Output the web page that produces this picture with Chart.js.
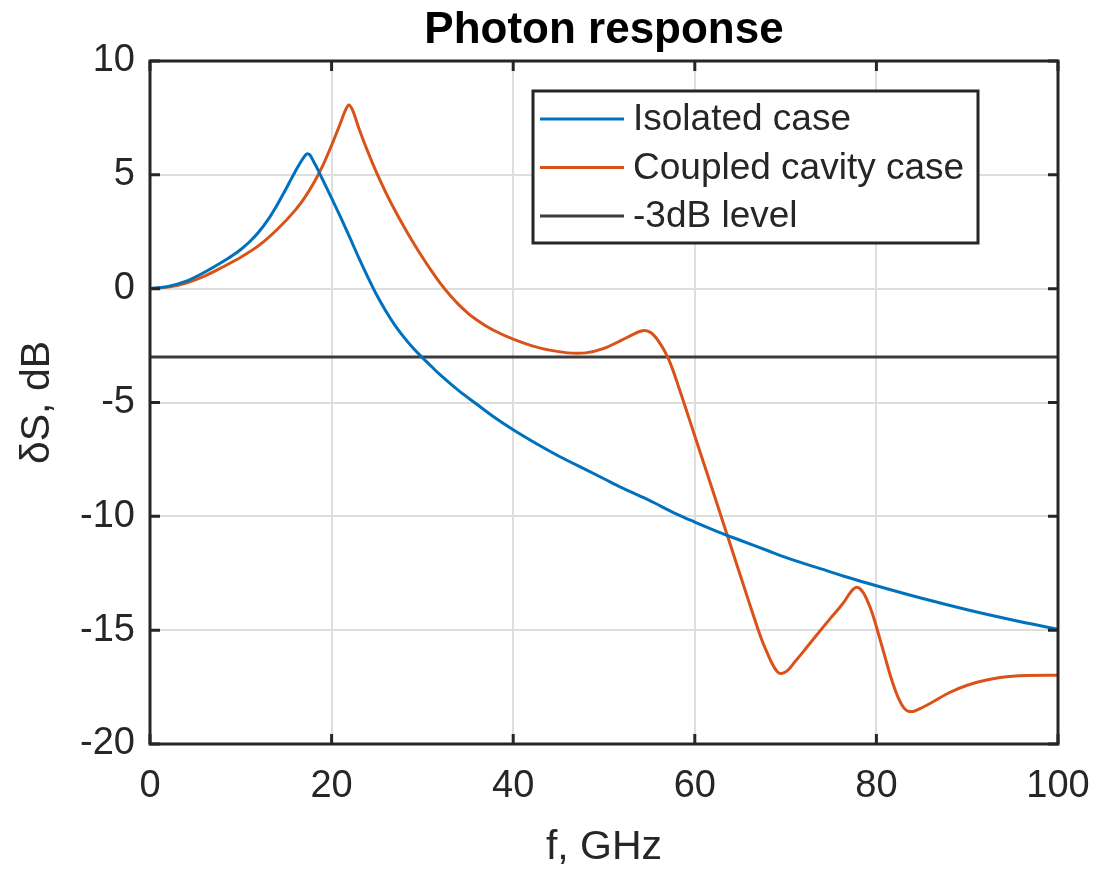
<!DOCTYPE html>
<html>
<head>
<meta charset="utf-8">
<title>Photon response</title>
<script src="https://cdn.jsdelivr.net/npm/chart.js@4.4.1/dist/chart.umd.min.js"></script>
<style>
  html, body { margin: 0; padding: 0; background: #ffffff; }
  #wrap { width: 1099px; height: 872px; }
</style>
</head>
<body>
<div id="wrap"><canvas id="chart" width="1099" height="872"></canvas></div>
<script>
// Values (f in GHz, response in dB)
const isolatedFreq = [0, 2, 4, 6, 8, 9, 10, 11, 12, 13, 14, 15, 15.5, 16, 16.5, 17, 17.3, 17.6, 18, 18.5,
  19, 20, 21, 22, 23, 24, 25, 26, 27, 28, 29, 30, 31, 32, 34, 36, 38, 40, 42, 45,
  48, 50, 52, 55, 58, 60, 63, 65, 68, 70, 74, 77, 80, 85, 90, 95, 100];
const isolatedDb = [0, 0.1, 0.33, 0.72, 1.18, 1.43, 1.72, 2.07, 2.5, 3.03, 3.68, 4.4, 4.78, 5.15, 5.5, 5.8, 5.93, 5.88, 5.6, 5.22,
  4.8, 3.98, 3.13, 2.25, 1.35, 0.5, -0.3, -1.0, -1.62, -2.15, -2.62, -3.03, -3.42, -3.8, -4.48, -5.08, -5.67, -6.2, -6.68, -7.35,
  -7.95, -8.35, -8.75, -9.3, -9.9, -10.25, -10.75, -11.05, -11.5, -11.8, -12.32, -12.7, -13.05, -13.6, -14.1, -14.55, -14.96];

const coupledFreq = [0, 2, 4, 6, 8, 10, 12, 14, 16, 17, 18, 19, 20, 21, 21.5, 21.9, 22.3, 23, 24, 25,
  26, 27, 28, 29, 30, 31, 32, 33, 34, 35, 36, 37, 38, 40, 42, 44, 46, 47, 48, 50,
  52, 53, 54, 54.5, 55, 55.5, 56, 56.5, 57, 57.5, 58, 58.5, 59, 60, 62, 64, 66, 67, 67.5, 68,
  68.5, 69, 69.4, 69.8, 70.3, 71, 72, 73, 74, 75, 76, 76.5, 77, 77.4, 77.8, 78.2, 78.6, 79, 79.5, 80,
  80.5, 81, 81.5, 82, 82.5, 83, 83.5, 84, 84.5, 86, 88, 90, 92, 95, 100];
const coupledDb = [0, 0.07, 0.25, 0.55, 0.95, 1.38, 1.9, 2.6, 3.45, 3.98, 4.62, 5.38, 6.3, 7.3, 7.82, 8.07, 7.85, 7.05, 6.0, 5.05,
  4.2, 3.42, 2.7, 2.02, 1.38, 0.78, 0.22, -0.27, -0.7, -1.07, -1.38, -1.64, -1.86, -2.22, -2.5, -2.7, -2.82, -2.84, -2.82, -2.62,
  -2.25, -2.05, -1.87, -1.84, -1.9, -2.05, -2.3, -2.62, -3.0, -3.48, -4.05, -4.65, -5.25, -6.47, -8.9, -11.35, -13.8, -15.0, -15.55, -16.02,
  -16.45, -16.78, -16.9, -16.88, -16.74, -16.4, -15.92, -15.42, -14.93, -14.45, -13.98, -13.72, -13.42, -13.22, -13.12, -13.18, -13.38, -13.7, -14.2, -14.85,
  -15.55, -16.25, -16.95, -17.55, -18.05, -18.4, -18.56, -18.57, -18.5, -18.2, -17.75, -17.42, -17.2, -17.02, -16.98];

const levelFreq = [0, 100];
const levelDb = [-3, -3];

const xTickValues = [0, 20, 40, 60, 80, 100];
const yTickValues = [-20, -15, -10, -5, 0, 5, 10];

const chartTitle = 'Photon response';

const FONT = "'Liberation Sans', Arial, Helvetica, sans-serif";
const INK = '#262626';

function toPoints(xs, ys) {
  return xs.map((x, i) => ({ x: x, y: ys[i] }));
}

// MATLAB style box with inward ticks on all four sides
const axesBox = {
  id: 'axesBox',
  afterDatasetsDraw(chart) {
    const { ctx, chartArea: a, scales: { x, y } } = chart;
    const len = 10;
    ctx.save();
    ctx.strokeStyle = INK;
    ctx.lineWidth = 3;
    ctx.beginPath();
    x.ticks.forEach(t => {
      const px = x.getPixelForValue(t.value);
      ctx.moveTo(px, a.bottom); ctx.lineTo(px, a.bottom - len);
      ctx.moveTo(px, a.top); ctx.lineTo(px, a.top + len);
    });
    y.ticks.forEach(t => {
      const py = y.getPixelForValue(t.value);
      ctx.moveTo(a.left, py); ctx.lineTo(a.left + len, py);
      ctx.moveTo(a.right, py); ctx.lineTo(a.right - len, py);
    });
    ctx.stroke();
    ctx.strokeRect(a.left, a.top, a.right - a.left, a.bottom - a.top);
    ctx.restore();
  }
};

// title centred over the plot box, legend box inside the plot (top right)
const overlay = {
  id: 'overlay',
  afterDraw(chart) {
    const { ctx, chartArea: a } = chart;
    ctx.save();
    ctx.fillStyle = '#000000';
    ctx.font = 'bold 44px ' + FONT;
    ctx.textAlign = 'center';
    ctx.textBaseline = 'middle';
    ctx.fillText(chartTitle, (a.left + a.right) / 2, 31);

    const sets = chart.data.datasets;
    const right = a.right - 80;
    const left = right - 445;
    const top = a.top + 30;
    const rowH = 48.5;
    const height = 152;
    ctx.fillStyle = '#ffffff';
    ctx.fillRect(left, top, right - left, height);
    ctx.lineWidth = 3;
    ctx.strokeStyle = INK;
    ctx.strokeRect(left, top, right - left, height);
    ctx.font = '37px ' + FONT;
    ctx.textAlign = 'left';
    sets.forEach((ds, i) => {
      const cy = top + 28 + i * rowH;
      ctx.strokeStyle = ds.borderColor;
      ctx.lineWidth = 3;
      ctx.beginPath();
      ctx.moveTo(left + 7, cy);
      ctx.lineTo(left + 91, cy);
      ctx.stroke();
      ctx.fillStyle = INK;
      ctx.fillText(ds.label, left + 100, cy + 1);
    });
    ctx.restore();
  }
};

const chart = new Chart(document.getElementById('chart'), {
  type: 'line',
  data: {
    datasets: [
      {
        label: 'Isolated case',
        data: toPoints(isolatedFreq, isolatedDb),
        borderColor: '#0072BD',
        borderWidth: 3,
        pointRadius: 0,
        cubicInterpolationMode: 'monotone',
        fill: false
      },
      {
        label: 'Coupled cavity case',
        data: toPoints(coupledFreq, coupledDb),
        borderColor: '#D95319',
        borderWidth: 3,
        pointRadius: 0,
        cubicInterpolationMode: 'monotone',
        fill: false
      },
      {
        label: '-3dB level',
        data: toPoints(levelFreq, levelDb),
        borderColor: '#3c3c3c',
        borderWidth: 3,
        pointRadius: 0,
        fill: false
      }
    ]
  },
  options: {
    responsive: false,
    animation: false,
    layout: { padding: { left: 0, right: 41, top: 61, bottom: 0 } },
    plugins: {
      legend: { display: false },
      tooltip: { enabled: false },
      title: { display: false }
    },
    scales: {
      x: {
        type: 'linear',
        min: 0,
        max: 100,
        afterBuildTicks: s => { s.ticks = xTickValues.map(v => ({ value: v })); },
        afterFit: s => { s.height = 128; s.paddingLeft = 0; s.paddingRight = 0; },
        grid: { color: '#dedede', lineWidth: 2, drawTicks: false },
        border: { display: false },
        ticks: {
          color: INK,
          padding: 20,
          maxRotation: 0,
          font: { family: FONT, size: 38 }
        },
        title: {
          display: true,
          text: 'f, GHz',
          color: INK,
          font: { family: FONT, size: 41, lineHeight: 1.2 },
          padding: { top: 0, bottom: 0 }
        }
      },
      y: {
        type: 'linear',
        min: -20,
        max: 10,
        afterBuildTicks: s => { s.ticks = yTickValues.map(v => ({ value: v })); },
        afterFit: s => { s.width = 150; s.paddingTop = 0; s.paddingBottom = 0; },
        grid: { color: '#dedede', lineWidth: 2, drawTicks: false },
        border: { display: false },
        ticks: {
          color: INK,
          padding: 15,
          font: { family: FONT, size: 38 }
        },
        title: {
          display: true,
          text: 'δS, dB',
          color: INK,
          font: { family: FONT, size: 41, lineHeight: 1.2 },
          padding: { top: 13, bottom: 0 }
        }
      }
    }
  },
  plugins: [axesBox, overlay]
});
</script>
</body>
</html>
